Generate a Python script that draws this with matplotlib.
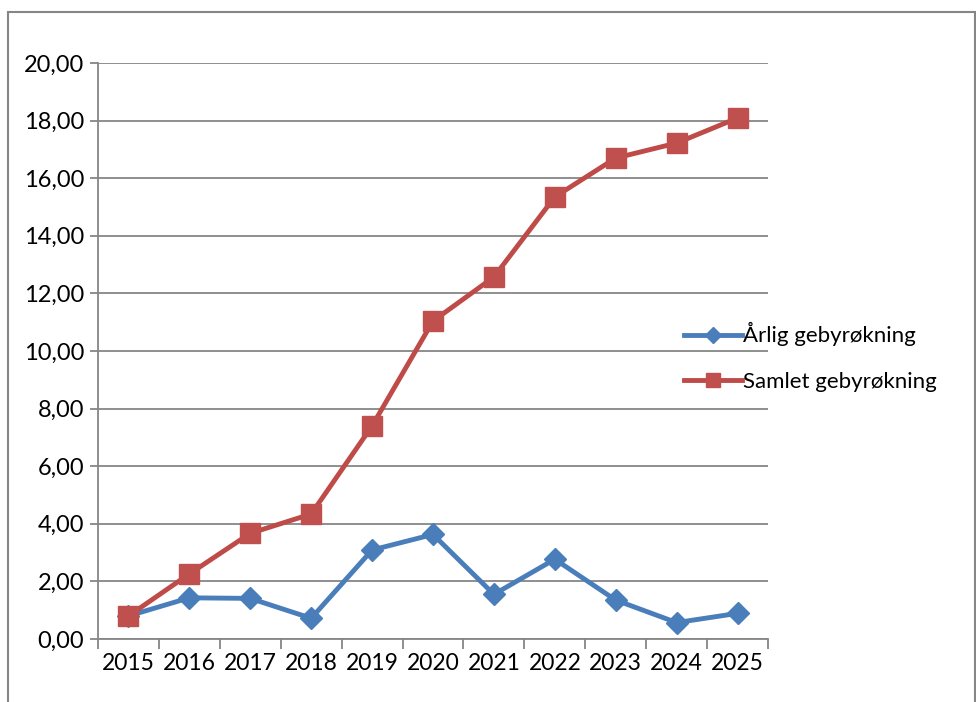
import matplotlib.pyplot as plt
from matplotlib.patches import Rectangle

aar = ['2015', '2016', '2017', '2018', '2019', '2020', '2021', '2022', '2023', '2024', '2025']
aarlig = [0.80, 1.43, 1.41, 0.72, 3.09, 3.63, 1.55, 2.77, 1.35, 0.57, 0.89]
samlet = [0.80, 2.26, 3.67, 4.34, 7.40, 11.04, 12.57, 15.35, 16.70, 17.22, 18.09]
y_ticks = [0, 2, 4, 6, 8, 10, 12, 14, 16, 18, 20]

plt.rcParams['font.family'] = ['Lato', 'DejaVu Sans']

fig = plt.figure(figsize=(9.76, 7.02), dpi=100)
ax = fig.add_axes([98 / 976, 63 / 702, 670 / 976, 576 / 702])

# ramme rundt hele diagrammet
fig.patches.append(Rectangle((8 / 976, -0.01), 967 / 976, 1 - 12 / 702 + 0.01,
                             transform=fig.transFigure, fill=False,
                             edgecolor='#868686', linewidth=1.5))

x = list(range(len(aar)))
ax.plot(x, aarlig, color='#4A7EBB', linewidth=3.5, marker='D', markersize=11,
        markerfacecolor='#4A7EBB', markeredgecolor='#4A7EBB', label='Årlig gebyrøkning', zorder=3)
ax.plot(x, samlet, color='#BE4B48', linewidth=3.5, marker='s', markersize=14,
        markerfacecolor='#C0504D', markeredgecolor='#C0504D', label='Samlet gebyrøkning', zorder=3)

ax.set_xlim(-0.5, len(aar) - 0.5)
ax.set_ylim(0, 20)
ax.set_yticks(y_ticks)
ax.set_yticklabels([f'{v:.2f}'.replace('.', ',') for v in y_ticks], fontsize=17)
ax.set_xticks([i - 0.5 for i in range(len(aar) + 1)])
ax.set_xticklabels([])
ax.set_xticks(x, minor=True)
ax.set_xticklabels(aar, minor=True, fontsize=16.5)
ax.tick_params(axis='x', which='major', length=7, width=1.3, color='#868686', direction='out')
ax.tick_params(axis='x', which='minor', length=0, pad=10)
ax.tick_params(axis='y', length=6, width=1.3, color='#868686', direction='out', pad=4)

ax.grid(axis='y', color='#868686', linewidth=1.3)
ax.set_axisbelow(True)
for s in ['top', 'right']:
    ax.spines[s].set_visible(False)
for s in ['left', 'bottom']:
    ax.spines[s].set_color('#868686')
    ax.spines[s].set_linewidth(1.3)

fig.legend(loc='center left', bbox_to_anchor=(664 / 976, 1 - 357 / 702), frameon=False,
           fontsize=16, handlelength=2.6, handletextpad=0.05, labelspacing=1.15,
           markerscale=0.75)

plt.savefig('out.png', dpi=100)
